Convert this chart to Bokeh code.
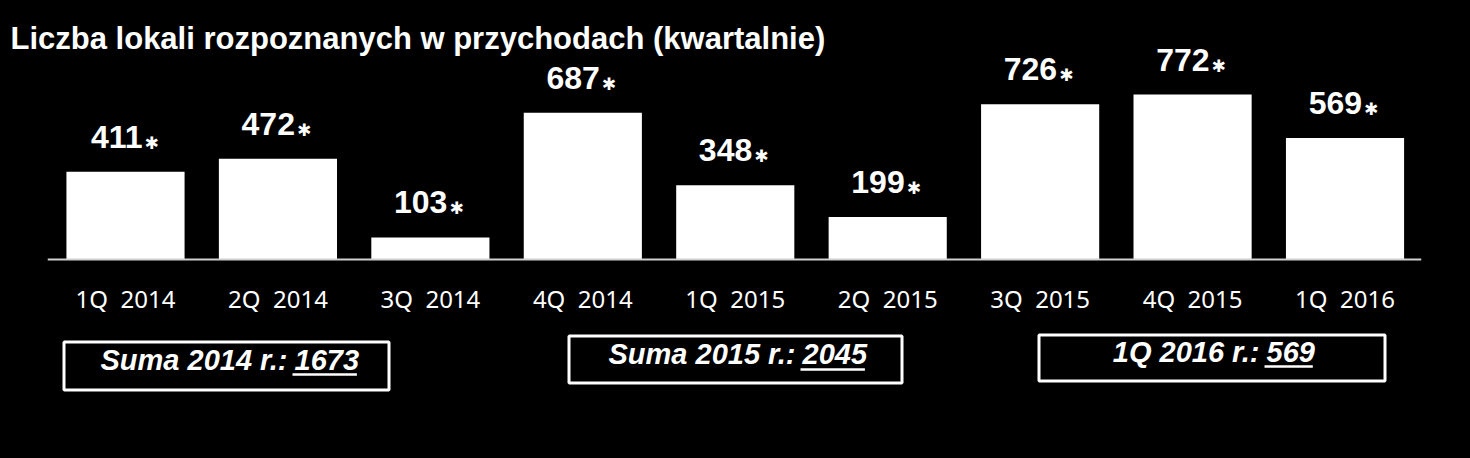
from bokeh.plotting import figure
from bokeh.models import Range1d, Label, GlobalInlineStyleSheet
from bokeh.core.properties import value
from bokeh.embed import file_html
from bokeh.resources import INLINE

# ---- data ----
quarters = ["1Q 2014", "2Q 2014", "3Q 2014", "4Q 2014", "1Q 2015",
            "2Q 2015", "3Q 2015", "4Q 2015", "1Q 2016"]
counts = [411, 472, 103, 687, 348, 199, 726, 772, 569]
title_text = "Liczba lokali rozpoznanych w przychodach (kwartalnie)"
sum_prefixes = ["Suma 2014 r.:", "Suma 2015 r.:", "1Q 2016 r.:"]
sum_values = ["1673", "2045", "569"]

# ---- layout geometry (pixels) ----
W, H = 1470, 458
CAT_W = 152.44      # px per category
X0 = 125            # px of first category centre
BASE = 259          # px of baseline from top
PX_PER = 0.2137     # px per unit

x_start = -X0 / CAT_W
x_end = (W - X0) / CAT_W
y_end = BASE / PX_PER
y_start = -(H - BASE) / PX_PER


def dx(px):
    return (px - X0) / CAT_W


def dy(py):
    return (BASE - py) / PX_PER


# boxes: (left, top, right, bottom) px, number anchor x, text middle y, underline y
boxes = [(62, 340, 390, 391, 294, 359, 374),
         (567, 334, 903, 384, 802, 353, 369),
         (1037, 333, 1386, 382, 1266, 351, 366)]

p = figure(width=W, height=H, output_backend="svg", toolbar_location=None,
           x_range=Range1d(x_start, x_end), y_range=Range1d(y_start, y_end),
           x_axis_location=None, y_axis_location=None,
           min_border=0, min_border_left=0, min_border_right=0,
           min_border_top=0, min_border_bottom=0)
p.background_fill_color = "black"
p.border_fill_color = "black"
p.outline_line_color = None
p.grid.visible = False
p.stylesheets = [GlobalInlineStyleSheet(css="html, body { background: #000; }")]

idx = list(range(len(counts)))

p.vbar(x=idx, top=counts, bottom=0, width=0.775, fill_color="white", line_color=None)

p.line(x=[-0.51, len(counts) - 0.5], y=[0, 0], line_color="#d0d0d0", line_width=2)

p.text(x=idx, y=counts, text=[str(c) for c in counts], text_align="right",
       text_baseline="middle", x_offset=17, y_offset=-35,
       text_font=value("Liberation Sans"), text_font_style="bold",
       text_font_size="32px", text_color="white")
p.text(x=idx, y=counts, text=["\u2731"] * len(counts), text_align="left",
       text_baseline="middle", x_offset=19, y_offset=-29,
       text_font=value("DejaVu Sans"), text_font_size="17px", text_color="white")

p.text(x=idx, y=[0] * len(idx), text=[q.replace(" ", "\u00a0\u00a0") for q in quarters],
       text_align="center", text_baseline="middle", y_offset=39,
       text_font=value("Noto Sans"), text_font_size="24px", text_color="white")

for (l, t, r, b, ax, my, uy), pre, num in zip(boxes, sum_prefixes, sum_values):
    p.quad(left=[dx(l + 1.5)], right=[dx(r - 1.5)], top=[dy(t + 1.5)], bottom=[dy(b - 1.5)],
           fill_color=None, line_color="white", line_width=3)
    p.text(x=[dx(ax - 7)], y=[dy(my)], text=[pre], text_align="right",
           text_baseline="middle", text_font=value("Liberation Sans"),
           text_font_style="bold italic", text_font_size="29px", text_color="white")
    p.text(x=[dx(ax)], y=[dy(my)], text=[num], text_align="left",
           text_baseline="middle", text_font=value("Liberation Sans"),
           text_font_style="bold italic", text_font_size="29px", text_color="white")
    p.line(x=[dx(ax - 2), dx(ax - 2 + len(num) * 16.1)], y=[dy(uy), dy(uy)],
           line_color="white", line_width=2.5)

p.add_layout(Label(x=dx(10), y=dy(38), text=title_text, text_align="left",
                   text_baseline="middle", text_font="Liberation Sans",
                   text_font_style="bold", text_font_size="31px", text_color="white"))

open("out.html", "w").write(file_html(p, INLINE))
